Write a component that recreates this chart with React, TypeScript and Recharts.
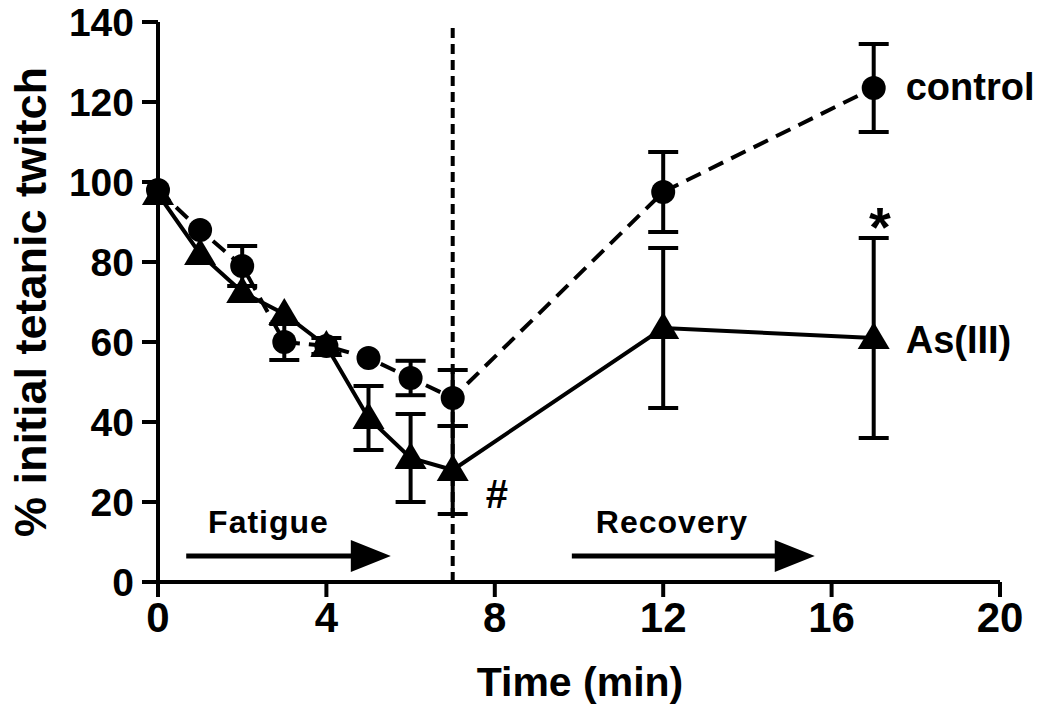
import { LineChart, Line, XAxis, YAxis, ErrorBar, ReferenceLine, ReferenceDot, Label } from 'recharts';

const times = [0, 1, 2, 3, 4, 5, 6, 7, 12, 17];
const controlMean = [98, 88, 79, 60, 59, 56, 51, 46, 97.5, 123.5];
const controlSem = [null, null, 5, 4.5, null, null, 4.3, 7, 10, 11];
const arsenicMean = [97, 82, 72.5, 67, 59, 41, 31, 28, 63.5, 61];
const arsenicSem = [null, null, null, null, 2, 8, 11, 11, 20, 25];
const xTicks = [0, 4, 8, 12, 16, 20];
const yTicks = [0, 20, 40, 60, 80, 100, 120, 140];

const data = times.map((t, i) => ({
  t,
  control: controlMean[i],
  controlErr: controlSem[i],
  arsenic: arsenicMean[i],
  arsenicErr: arsenicSem[i],
}));

const FONT = '"Liberation Sans", Arial, Helvetica, sans-serif';

const CircleDot = (p: any) =>
  p.cx == null ? null : <circle key={`c${p.index}`} cx={p.cx} cy={p.cy} r={12} fill="#000" />;

const TriangleDot = (p: any) =>
  p.cx == null ? null : (
    <polygon
      key={`t${p.index}`}
      points={`${p.cx},${p.cy - 16} ${p.cx - 16},${p.cy + 11} ${p.cx + 16},${p.cy + 11}`}
      fill="#000"
    />
  );

const arrowHead = (p: any) => (
  <polygon points={`${p.cx},${p.cy} ${p.cx - 40},${p.cy - 16} ${p.cx - 40},${p.cy + 16}`} fill="#000" />
);

const textAt =
  (s: string, size: number, anchor: string, extra: any = {}) =>
  (p: any) => (
    <text x={p.cx} y={p.cy} fontSize={size} fontWeight="bold" fontFamily={FONT} textAnchor={anchor} fill="#000" {...extra}>
      {s}
    </text>
  );

const YTitle = () => (
  <text
    transform="translate(46,302) rotate(-90)"
    textAnchor="middle"
    fontSize={45}
    fontWeight="bold"
    fontFamily={FONT}
    fill="#000"
  >
    % initial tetanic twitch
  </text>
);

const XTitle = () => (
  <text x={580} y={696} textAnchor="middle" fontSize={41} fontWeight="bold" fontFamily={FONT} fill="#000">
    Time (min)
  </text>
);

export default function App() {
  return (
    <div style={{ position: 'absolute', left: 0, top: 0, background: '#fff' }}>
      <LineChart width={1050} height={720} data={data} margin={{ top: 22, right: 50, bottom: 0, left: 0 }}>
        <XAxis
          type="number"
          dataKey="t"
          domain={[0, 20]}
          ticks={xTicks}
          height={138}
          tickSize={15}
          tickMargin={5}
          axisLine={{ stroke: '#000', strokeWidth: 4 }}
          tickLine={{ stroke: '#000', strokeWidth: 4 }}
          tick={{ fill: '#000', fontSize: 42, fontWeight: 'bold', fontFamily: FONT }}
        >
          <Label content={XTitle} />
        </XAxis>
        <YAxis
          type="number"
          domain={[0, 140]}
          ticks={yTicks}
          width={158}
          tickSize={16}
          tickMargin={8}
          axisLine={{ stroke: '#000', strokeWidth: 4 }}
          tickLine={{ stroke: '#000', strokeWidth: 4 }}
          tick={{ fill: '#000', fontSize: 39, fontWeight: 'bold', fontFamily: FONT }}
        >
          <Label content={YTitle} />
        </YAxis>

        <ReferenceLine x={7} stroke="#000" strokeWidth={4} strokeDasharray="10 6" />

        <ReferenceLine segment={[{ x: 0.67, y: 6.5 }, { x: 4.8, y: 6.5 }]} stroke="#000" strokeWidth={5} />
        <ReferenceDot x={5.53} y={6.5} r={0} shape={arrowHead} />
        <ReferenceLine segment={[{ x: 9.83, y: 6.5 }, { x: 14.8, y: 6.5 }]} stroke="#000" strokeWidth={5} />
        <ReferenceDot x={15.6} y={6.5} r={0} shape={arrowHead} />

        <ReferenceDot x={1.19} y={12.25} r={0} shape={textAt('Fatigue', 32, 'start', { letterSpacing: 1 })} />
        <ReferenceDot x={10.4} y={12.25} r={0} shape={textAt('Recovery', 32, 'start', { letterSpacing: 1 })} />
        <ReferenceDot x={8.05} y={18.5} r={0} shape={textAt('#', 40, 'middle')} />
        <ReferenceDot x={17.15} y={84} r={0} shape={textAt('*', 56, 'middle')} />
        <ReferenceDot x={17.76} y={120.5} r={0} shape={textAt('control', 38, 'start')} />
        <ReferenceDot x={17.76} y={57.25} r={0} shape={textAt('As(III)', 38, 'start')} />

        <Line
          dataKey="control"
          stroke="#000"
          strokeWidth={4}
          strokeDasharray="16 9"
          dot={CircleDot}
          activeDot={false}
          isAnimationActive={false}
        >
          <ErrorBar dataKey="controlErr" direction="y" width={15} stroke="#000" strokeWidth={4} />
        </Line>
        <Line
          dataKey="arsenic"
          stroke="#000"
          strokeWidth={4}
          dot={TriangleDot}
          activeDot={false}
          isAnimationActive={false}
        >
          <ErrorBar dataKey="arsenicErr" direction="y" width={15} stroke="#000" strokeWidth={4} />
        </Line>
      </LineChart>
    </div>
  );
}
